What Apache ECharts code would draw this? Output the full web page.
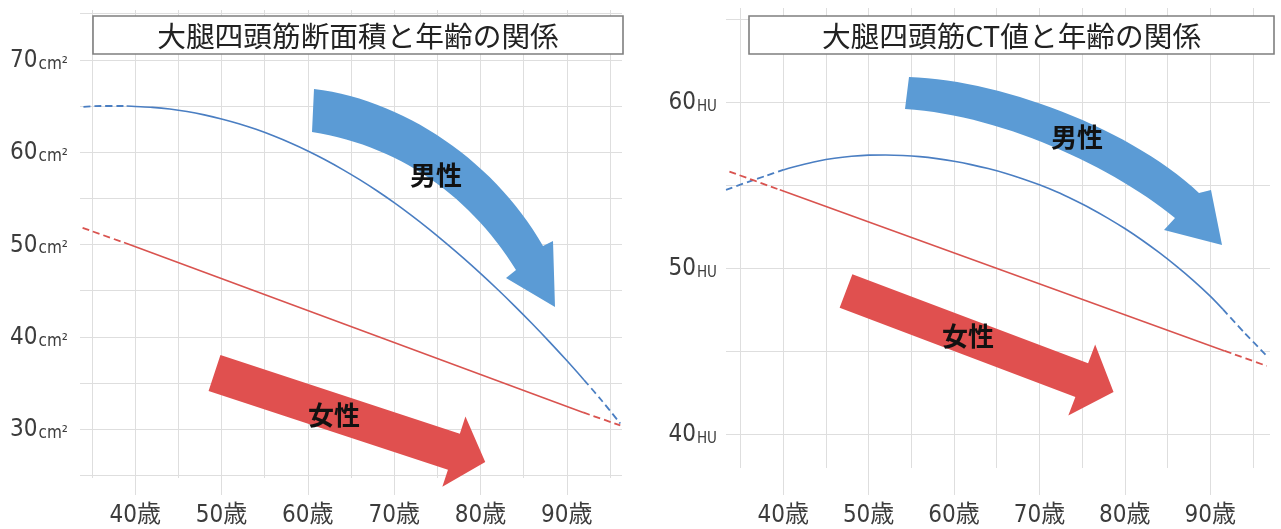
<!DOCTYPE html>
<html><head><meta charset="utf-8">
<script src="https://cdn.jsdelivr.net/npm/echarts@6/dist/echarts.min.js"></script>
<style>html,body{margin:0;padding:0;background:#fff}#c{width:1281px;height:529px}</style>
</head><body><div id="c"></div>
<script>
// ---------- Left panel: quadriceps cross-sectional area (cm²) vs age ----------
const areaTitle = '大腿四頭筋断面積と年齢の関係';
const areaUnit = 'cm²';
const areaMaleAges   = [34, 36, 39, 40, 42, 44, 46, 48, 50, 52, 54, 56, 58, 60, 62, 64, 66, 68, 70, 72, 74, 76, 78, 80, 82, 84, 86, 88, 90, 92, 94, 96.2];
const areaMaleValues = [64.9, 65.0, 65.0, 64.95, 64.85, 64.67, 64.4, 64.04, 63.6, 63.08, 62.47, 61.77, 60.99, 60.13, 59.18, 58.14, 57.02, 55.82, 54.53, 53.15, 51.69, 50.15, 48.55, 46.87, 45.12, 43.3, 41.41, 39.45, 37.42, 35.32, 33.15, 30.6];
const areaMaleObserved = [39, 92];
const areaFemaleAges   = [33.9, 38.7, 91.9, 96.2];
const areaFemaleValues = [51.8, 50.2, 31.8, 30.4];
const areaFemaleObserved = [38.7, 91.9];
const areaYLabels = [30, 40, 50, 60, 70];
const areaYGrid   = [25, 30, 35, 40, 45, 50, 55, 60, 65, 70, 75];

// ---------- Right panel: quadriceps CT value (HU) vs age ----------
const ctTitle = '大腿四頭筋CT値と年齢の関係';
const ctUnit = 'HU';
const ctMaleAges   = [33.3, 36, 38, 40, 42, 44, 46, 48, 50, 52, 54, 56, 58, 60, 62, 64, 66, 68, 70, 72, 74, 76, 78, 80, 82, 84, 86, 88, 90, 91.5, 94, 96.8];
const ctMaleValues = [54.7, 55.2, 55.55, 55.9, 56.18, 56.42, 56.6, 56.72, 56.79, 56.8, 56.77, 56.7, 56.58, 56.42, 56.22, 55.98, 55.7, 55.37, 55.0, 54.58, 54.1, 53.58, 53.0, 52.37, 51.68, 50.93, 50.12, 49.25, 48.3, 47.5, 46.1, 44.6];
const ctMaleObserved = [40, 91.5];
const ctFemaleAges   = [33.7, 39.6, 91.7, 96.6];
const ctFemaleValues = [55.8, 54.7, 45.0, 44.1];
const ctFemaleObserved = [39.6, 91.7];
const ctYLabels = [40, 50, 60];
const ctYGrid   = [40, 45, 50, 55, 60, 65];

// ---------- shared age axis ----------
const ageLabels = [40, 50, 60, 70, 80, 90];
const ageGrid   = [35, 40, 45, 50, 55, 60, 65, 70, 75, 80, 85, 90, 95];
const ageSuffix = '歳';
const maleName = '男性', femaleName = '女性';

const BLUE_LINE = '#4a7ec2', RED_LINE = '#d9534f';
const BLUE_FILL = '#5b9bd5', RED_FILL = '#e0504f';
const GRID_C = '#dedede', LABEL_C = '#3c3c3c';
const NUM_FONT = "'Liberation Sans Narrow','DejaVu Sans Condensed','Noto Sans CJK JP',sans-serif";
const CJK_FONT = "'Noto Sans CJK JP',sans-serif";

function lineSeries(name, ages, vals, observed, color, idx) {
  const pts = ages.map((a, i) => [a, vals[i]]);
  const left = pts.filter(p => p[0] <= observed[0]);
  const mid = pts.filter(p => p[0] >= observed[0] && p[0] <= observed[1]);
  const right = pts.filter(p => p[0] >= observed[1]);
  const base = {type: 'line', xAxisIndex: idx * 2, yAxisIndex: idx, showSymbol: false, symbol: 'none', smooth: 0.3, silent: true, z: 3};
  return [
    Object.assign({}, base, {name: name, data: mid, lineStyle: {color: color, width: 1.6}}),
    Object.assign({}, base, {name: name + '-l', data: left, lineStyle: {color: color, width: 1.8, type: [7, 4]}}),
    Object.assign({}, base, {name: name + '-r', data: right, lineStyle: {color: color, width: 1.8, type: [7, 4]}})
  ];
}

function xAxes(gridIndex, min, max, tickLen, margin) {
  return [
    {type: 'value', gridIndex: gridIndex, min: min, max: max, position: 'bottom',
     axisLine: {show: false},
     axisTick: {show: true, customValues: ageLabels, length: tickLen, lineStyle: {color: GRID_C, width: 1}},
     axisLabel: {customValues: ageLabels, formatter: v => v + ageSuffix, margin: margin,
                 color: LABEL_C, fontSize: 24, fontFamily: NUM_FONT},
     splitLine: {show: false}},
    {type: 'value', gridIndex: gridIndex, min: min, max: max, position: 'top',
     axisLine: {show: false},
     axisTick: {show: false, customValues: ageGrid},
     axisLabel: {show: false},
     splitLine: {show: true, lineStyle: {color: GRID_C, width: 1}}}
  ];
}

function yAxis(gridIndex, min, max, labels, gridVals, unit, margin, unitSize) {
  return {type: 'value', gridIndex: gridIndex, min: min, max: max,
    axisLine: {show: false},
    axisTick: {show: false, customValues: gridVals},
    splitLine: {show: true, lineStyle: {color: GRID_C, width: 1}},
    axisLabel: {customValues: labels, margin: margin,
      formatter: v => '{n|' + v + '}{u|' + unit + '}',
      rich: {
        n: {fontSize: 24, fontFamily: NUM_FONT, color: LABEL_C, verticalAlign: 'bottom', lineHeight: 26},
        u: {fontSize: unitSize, fontFamily: NUM_FONT, color: LABEL_C, verticalAlign: 'bottom', lineHeight: 26, padding: [0, 0, 0, 1]}
      }}};
}

function straightArrow(cx, cy, angleDeg, len, headLen, halfShaft, halfHead) {
  const a = angleDeg * Math.PI / 180, dx = Math.cos(a), dy = Math.sin(a), nx = -dy, ny = dx;
  const p = (s, t) => [cx + dx * s + nx * t, cy + dy * s + ny * t];
  const b = len - headLen;
  return [p(0, -halfShaft), p(b, -halfShaft), p(b, -halfHead), p(len, 0), p(b, halfHead), p(b, halfShaft), p(0, halfShaft)];
}

// cubic bezier sampling for curved arrow outlines
function bez(p0, p1, p2, p3, n) {
  const out = [];
  for (let i = 0; i <= n; i++) {
    const t = i / n, u = 1 - t;
    out.push([u*u*u*p0[0] + 3*u*u*t*p1[0] + 3*u*t*t*p2[0] + t*t*t*p3[0],
              u*u*u*p0[1] + 3*u*u*t*p1[1] + 3*u*t*t*p2[1] + t*t*t*p3[1]]);
  }
  return out;
}
function curvedArrow(outer, head, inner) {
  return [].concat(bez(outer[0], outer[1], outer[2], outer[3], 30), head, bez(inner[0], inner[1], inner[2], inner[3], 30));
}

function titleBox(x, y, w, h, text) {
  return [
    {type: 'rect', shape: {x: x, y: y, width: w, height: h}, style: {fill: '#fff', stroke: '#7f7f7f', lineWidth: 1.6}, z: 10},
    {type: 'text', x: x + w / 2, y: y + h / 2 + 1, z: 11,
     style: {text: text, fill: '#222', font: '28.7px ' + CJK_FONT, align: 'center', verticalAlign: 'middle'}}
  ];
}

function arrowText(x, y, text) {
  return {type: 'text', x: x, y: y, z: 12,
    style: {text: text, fill: '#111', font: 'bold 26px ' + CJK_FONT, align: 'center', verticalAlign: 'middle'}};
}

const blueArrowLeft = curvedArrow(
  [[314, 89], [405, 100], [495, 162], [543, 246]],
  [[553, 241], [555, 307], [506, 278]],
  [[516, 270], [470, 196], [400, 146], [312, 132]]);
const blueArrowRight = curvedArrow(
  [[909, 77], [1000, 80], [1130, 128], [1199, 193]],
  [[1211, 190], [1222, 245], [1164, 230]],
  [[1175, 218], [1110, 165], [1000, 115], [905, 109]]);

const chart = echarts.init(document.getElementById('c'), null, {renderer: 'canvas'});
chart.setOption({
  backgroundColor: '#fff',
  animation: false,
  grid: [
    {left: 80, top: 10, width: 542, height: 468},
    {left: 726, top: 8, width: 544, height: 460}
  ],
  xAxis: [].concat(xAxes(0, 33.6, 96.4, 17, 26), xAxes(1, 33.3, 97.0, 27, 36)),
  yAxis: [
    yAxis(0, 24.7, 75.4, areaYLabels, areaYGrid, areaUnit, 12, 17),
    yAxis(1, 37.95, 65.65, ctYLabels, ctYGrid, ctUnit, 9, 15)
  ],
  series: [].concat(
    lineSeries('area-' + maleName, areaMaleAges, areaMaleValues, areaMaleObserved, BLUE_LINE, 0),
    lineSeries('area-' + femaleName, areaFemaleAges, areaFemaleValues, areaFemaleObserved, RED_LINE, 0),
    lineSeries('ct-' + maleName, ctMaleAges, ctMaleValues, ctMaleObserved, BLUE_LINE, 1),
    lineSeries('ct-' + femaleName, ctFemaleAges, ctFemaleValues, ctFemaleObserved, RED_LINE, 1)
  ),
  graphic: [].concat(
    titleBox(93, 16, 530, 38, areaTitle),
    titleBox(749, 16, 525, 38, ctTitle),
    [
      {type: 'polygon', z: 5, shape: {points: blueArrowLeft}, style: {fill: BLUE_FILL}},
      {type: 'polygon', z: 5, shape: {points: blueArrowRight}, style: {fill: BLUE_FILL}},
      {type: 'polygon', z: 5, shape: {points: straightArrow(214.5, 373, 18.2, 285, 33, 19, 37)}, style: {fill: RED_FILL}},
      {type: 'polygon', z: 5, shape: {points: straightArrow(846, 291, 20.7, 286, 34, 18, 38)}, style: {fill: RED_FILL}},
      arrowText(436, 175, maleName),
      arrowText(1077, 137, maleName),
      arrowText(334, 415, femaleName),
      arrowText(968, 336, femaleName)
    ]
  )
});
</script></body></html>
